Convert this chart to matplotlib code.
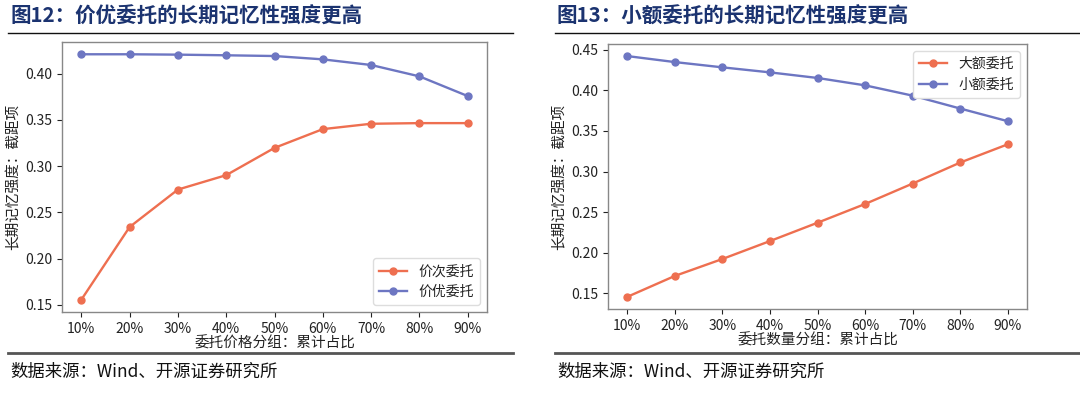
import matplotlib
matplotlib.use("Agg")
import matplotlib.pyplot as plt
from matplotlib.lines import Line2D

plt.rcParams['font.family'] = ['Noto Sans CJK SC', 'DejaVu Sans']
plt.rcParams['axes.unicode_minus'] = False

x_labels = ["10%", "20%", "30%", "40%", "50%", "60%", "70%", "80%", "90%"]

# Chart 12: price-based grouping
price_sub = [0.1554, 0.2341, 0.2746, 0.2902, 0.3197, 0.3400, 0.3458, 0.3465, 0.3465]
price_best = [0.4210, 0.4210, 0.4206, 0.4199, 0.4191, 0.4155, 0.4094, 0.3971, 0.3758]

# Chart 13: size-based grouping
size_large = [0.1455, 0.1713, 0.1922, 0.2143, 0.2369, 0.2600, 0.2852, 0.3111, 0.3336]
size_small = [0.4422, 0.4348, 0.4283, 0.4221, 0.4152, 0.4061, 0.3934, 0.3775, 0.3619]

RED = "#EE6F50"
BLUE = "#6D76C2"
TITLE_COLOR = "#1B3370"

W, H = 1080, 393
fig = plt.figure(figsize=(W / 100, H / 100), dpi=100)


def fx(px):
    return px / W


def fy(py):
    return 1 - py / H


def panel(rect, s1, s2, n1, n2, xlabel, legend_loc):
    ax = fig.add_axes(rect)
    xs = list(range(len(x_labels)))
    ax.plot(xs, s1, color=RED, marker="o", markersize=5, linewidth=1.7, label=n1)
    ax.plot(xs, s2, color=BLUE, marker="o", markersize=5, linewidth=1.7, label=n2)
    ax.set_xticks(xs)
    ax.set_xticklabels(x_labels)
    ax.yaxis.set_major_formatter(matplotlib.ticker.FormatStrFormatter("%.2f"))
    ax.tick_params(labelsize=10, colors="#222222", length=3.5, width=0.8)
    for sp in ax.spines.values():
        sp.set_color("#888888")
        sp.set_linewidth(1.0)
    ax.set_xlabel(xlabel, fontsize=10.5, color="#222222", labelpad=0)
    ax.set_ylabel("长期记忆强度：截距项", fontsize=10.5, color="#222222", labelpad=3)
    leg = ax.legend(loc=legend_loc, fontsize=10, framealpha=1, edgecolor="#dddddd",
                    handlelength=2.0, borderpad=0.45, labelspacing=0.45, handletextpad=0.8)
    for t in leg.get_texts():
        t.set_color("#222222")
    return ax


panel([fx(62), fy(312), fx(487 - 62), (312 - 42) / H], price_sub, price_best,
      "价次委托", "价优委托", "委托价格分组：累计占比", "lower right")
panel([fx(608), fy(309), fx(1027 - 608), (309 - 44) / H], size_large, size_small,
      "大额委托", "小额委托", "委托数量分组：累计占比", "upper right")

# Titles
fig.text(fx(10), fy(16), "图12：价优委托的长期记忆性强度更高", fontsize=14.8,
         fontweight="bold", color=TITLE_COLOR, va="center", ha="left")
fig.text(fx(557), fy(16), "图13：小额委托的长期记忆性强度更高", fontsize=14.8,
         fontweight="bold", color=TITLE_COLOR, va="center", ha="left")

# Rules
for x0, x1 in [(8, 513), (555, 1080)]:
    fig.add_artist(Line2D([fx(x0), fx(x1)], [fy(33), fy(33)], color="#111111", linewidth=1.0))
    fig.add_artist(Line2D([fx(x0), fx(x1)], [fy(353), fy(353)], color="#555555", linewidth=2.0))

# Footers
fig.text(fx(10), fy(372), "数据来源：Wind、开源证券研究所", fontsize=12.5,
         color="#111111", va="center", ha="left")
fig.text(fx(557), fy(372), "数据来源：Wind、开源证券研究所", fontsize=12.5,
         color="#111111", va="center", ha="left")

fig.savefig("out.png", dpi=100, facecolor="white")
